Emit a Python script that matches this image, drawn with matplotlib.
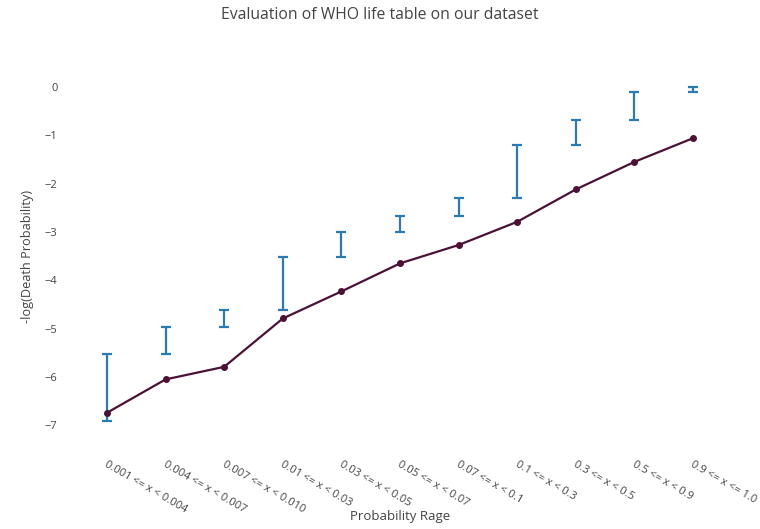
# plot of observed -log(death probability) per bin against the WHO bin edges
import matplotlib.pyplot as plt
import numpy as np
from matplotlib.transforms import ScaledTranslation

# data ------------------>
bins = ['0.001 <= x < 0.004', '0.004 <= x < 0.007', '0.007 <= x < 0.010',
        '0.01 <= x < 0.03', '0.03 <= x < 0.05', '0.05 <= x < 0.07',
        '0.07 <= x < 0.1', '0.1 <= x < 0.3', '0.3 <= x < 0.5',
        '0.5 <= x < 0.9', '0.9 <= x <= 1.0']

# log of the lower / upper edge of each bin
who_low = [-6.91, -5.52, -4.96, -4.61, -3.51, -3.00, -2.66, -2.30, -1.20, -0.69, -0.11]
who_high = [-5.52, -4.96, -4.61, -3.51, -3.00, -2.66, -2.30, -1.20, -0.69, -0.11, 0.0]

# mean value observed in our dataset
observed = [-6.74, -6.05, -5.79, -4.79, -4.23, -3.65, -3.27, -2.79, -2.12, -1.55, -1.06]

# style ------------------>
plt.rcParams['font.family'] = ['Open Sans', 'DejaVu Sans']
text_color = '#444444'
blue = '#2a7ab8'
purple = '#4b1236'

fig = plt.figure(figsize=(7.6, 5.29), dpi=100)
ax = fig.add_axes([0.1022, 0.1503, 0.8482, 0.731])

x = np.arange(len(bins))
low = np.array(who_low)
high = np.array(who_high)
mid = (low + high) / 2
half = (high - low) / 2

# WHO ranges as error bars
ax.errorbar(x, mid, yerr=half, fmt='none', ecolor=blue, elinewidth=1.6,
            capsize=3.5, capthick=1.6, zorder=2)

# observed values
ax.plot(x, observed, color=purple, linewidth=1.6, marker='o', markersize=4, zorder=3)

ax.set_xlim(-0.5, len(bins) - 0.5)
ax.set_ylim(-7.5, 0.5)
ax.set_yticks(range(-7, 1))
ax.set_yticklabels(['\u2212%d' % -v if v < 0 else '0' for v in range(-7, 1)])
ax.set_xticks(x)
ax.set_xticklabels(bins, rotation=-30, ha='left', va='center', rotation_mode='anchor')

for side in ax.spines.values():
    side.set_visible(False)
ax.tick_params(axis='both', length=0, colors=text_color, labelsize=8)
ax.tick_params(axis='y', pad=14.5)
ax.tick_params(axis='x', pad=10)

# shift rotated labels so the text starts at the tick
for lbl in ax.get_xticklabels():
    lbl.set_transform(lbl.get_transform() + ScaledTranslation(-1 / 72, 0, fig.dpi_scale_trans))

ax.set_xlabel('Probability Rage', color=text_color, fontsize=9.5)
ax.xaxis.label.set_va('center')
ax.xaxis.set_label_coords(0.5, -0.172)
ax.set_ylabel('-log(Death Probability)', color=text_color, fontsize=9.2)
ax.yaxis.label.set_va('center')
ax.yaxis.set_label_coords(-0.0775, 0.5)
fig.text(0.5, 0.972, 'Evaluation of WHO life table on our dataset', ha='center', va='center',
         color=text_color, fontsize=11.3)

plt.savefig('out.png', dpi=100)
